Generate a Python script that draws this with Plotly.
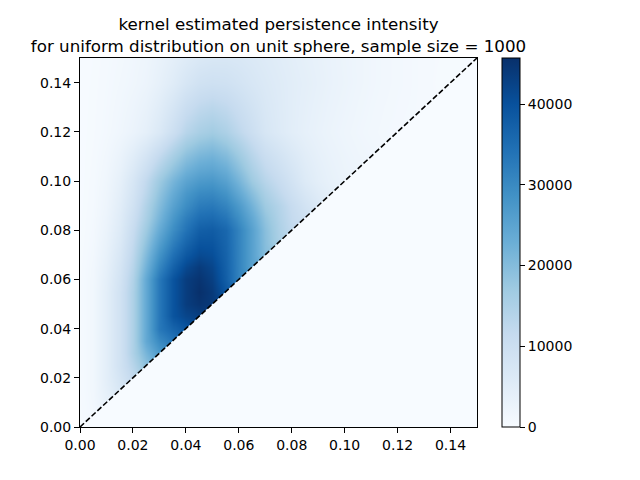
import plotly.graph_objects as go

# grid centres (birth on x, death on y)
x_centers = [round(i * 0.005, 3) for i in range(31)]
y_centers = [round(j * 0.005, 3) for j in range(31)]

# estimated intensity (thousands) for each row y, columns x = 0 .. y (upper triangle only)
rows_k = [
    [0.4],
    [0.45, 1.2],
    [0.5, 1.35, 3.6],
    [0.5, 1.5, 4.05, 7.2],
    [0.5, 1.5, 4.5, 8.1, 12],
    [0.5, 1.5, 4.5, 9, 13.5, 19],
    [0.5, 1.5, 4.5, 9, 15, 21.5, 27],
    [0.5, 1.5, 4.5, 9, 15, 24, 30, 33.5],
    [0.5, 1.5, 4.5, 9, 15, 24, 33, 36.5, 39],
    [0.5, 1.5, 4.5, 9, 15, 24, 33, 39.5, 42, 43],
    [0.5, 1.5, 4.5, 9, 15, 24, 33, 39.5, 43.5, 45, 44],
    [0.5, 1.5, 4.5, 9, 15, 24, 33, 39.5, 43.5, 45.7, 44, 39],
    [0.5, 1.5, 4.2, 8.5, 14.5, 24, 33, 39.5, 43.5, 45, 43, 37.5, 31],
    [0.45, 1.4, 3.85, 7.9, 13.6, 22.2, 30.6, 37, 41.5, 43.8, 42, 37.1, 31, 25.5],
    [0.4, 1.25, 3.5, 7.25, 12.75, 20.5, 28.25, 34.5, 38.75, 41.25, 40.5, 36.75, 31, 25.5, 20],
    [0.35, 1.1, 3.15, 6.6, 11.9, 18.75, 25.9, 32, 36.4, 39.4, 39.3, 36.4, 31, 25.5, 19.75, 15.5],
    [0.3, 1.0, 2.8, 6, 11, 17, 23.5, 29.5, 34, 37.5, 38, 36, 31, 25.5, 19.5, 15, 12],
    [0.3, 0.9, 2.5, 5.5, 10, 15.5, 21.5, 27.5, 32, 35, 35.5, 33.5, 29, 24, 18.5, 14.5, 11.5, 9.5],
    [0.25, 0.8, 2.2, 5, 9, 14.5, 20, 25.5, 29.5, 32.5, 33, 31, 27, 22, 17, 14, 11, 8.5, 6.5],
    [0.22, 0.75, 2.0, 4.5, 8.2, 13, 18.5, 23.5, 27.5, 29.8, 30.2, 28.2, 24, 19.5, 15.3, 12.3, 9.6, 7.2, 5.4, 4.0],
    [0.2, 0.7, 1.8, 4, 7.5, 12, 17, 21.5, 25, 27, 27.5, 25.5, 21.5, 17, 13.5, 11, 8.5, 6, 4.5, 3.5, 2.8],
    [0.2, 0.65, 1.6, 3.4, 6.3, 10, 14.4, 18.6, 22.1, 24.1, 24.7, 22.9, 19.2, 15.2, 12, 9.7, 7.6, 5.5, 4.2, 3.3, 2.6, 2.2],
    [0.2, 0.6, 1.4, 2.9, 5.15, 8.1, 11.75, 15.75, 19.25, 21.25, 22, 20.25, 17, 13.5, 10.5, 8.5, 6.65, 4.95, 3.85, 3.05, 2.45, 2.0, 1.7],
    [0.2, 0.55, 1.2, 2.35, 3.95, 6.15, 9.1, 12.9, 16.4, 18.4, 19.3, 17.6, 14.8, 11.8, 9, 7.25, 5.7, 4.4, 3.5, 2.8, 2.25, 1.85, 1.55, 1.25],
    [0.2, 0.5, 1.0, 1.8, 2.8, 4.2, 6.5, 10, 13.5, 15.5, 16.5, 15, 12.5, 10, 7.5, 6, 4.8, 3.9, 3.2, 2.6, 2.1, 1.7, 1.4, 1.1, 0.9],
    [0.2, 0.48, 0.95, 1.68, 2.55, 3.78, 5.83, 8.88, 12, 13.9, 14.75, 13.55, 11.45, 9.33, 7.23, 5.9, 4.83, 4.0, 3.33, 2.73, 2.23, 1.8, 1.48, 1.18, 0.95, 0.8],
    [0.2, 0.45, 0.9, 1.55, 2.3, 3.35, 5.15, 7.75, 10.5, 12.25, 13, 12.1, 10.4, 8.65, 6.95, 5.8, 4.85, 4.1, 3.45, 2.85, 2.35, 1.9, 1.55, 1.25, 1.0, 0.85, 0.7],
    [0.2, 0.43, 0.85, 1.43, 2.05, 2.93, 4.48, 6.63, 9, 10.6, 11.25, 10.65, 9.35, 7.98, 6.68, 5.7, 4.88, 4.2, 3.58, 2.98, 2.48, 2.0, 1.63, 1.33, 1.05, 0.88, 0.7, 0.55],
    [0.2, 0.4, 0.8, 1.3, 1.8, 2.5, 3.8, 5.5, 7.5, 9, 9.5, 9.2, 8.3, 7.3, 6.4, 5.6, 4.9, 4.3, 3.7, 3.1, 2.6, 2.1, 1.7, 1.4, 1.1, 0.9, 0.7, 0.5, 0.4],
    [0.2, 0.38, 0.75, 1.2, 1.7, 2.35, 3.5, 4.95, 6.55, 7.8, 8.3, 8.2, 7.6, 6.85, 6.1, 5.4, 4.75, 4.15, 3.6, 3.05, 2.55, 2.1, 1.7, 1.4, 1.1, 0.9, 0.7, 0.53, 0.43, 0.35],
    [0.2, 0.35, 0.7, 1.1, 1.6, 2.2, 3.2, 4.4, 5.6, 6.6, 7.1, 7.2, 6.9, 6.4, 5.8, 5.2, 4.6, 4.0, 3.5, 3.0, 2.5, 2.1, 1.7, 1.4, 1.1, 0.9, 0.7, 0.55, 0.45, 0.35, 0.3],
]

diag = [0.0, 0.15]
z_max = 45700
cbar_ticks = [0, 10000, 20000, 30000, 40000]
axis_ticks = [0.00, 0.02, 0.04, 0.06, 0.08, 0.10, 0.12, 0.14]

blues = [[0.0, "rgb(247,251,255)"], [0.125, "rgb(222,235,247)"], [0.25, "rgb(198,219,239)"],
         [0.375, "rgb(158,202,225)"], [0.5, "rgb(107,174,214)"], [0.625, "rgb(66,146,198)"],
         [0.75, "rgb(33,113,181)"], [0.875, "rgb(8,81,156)"], [1.0, "rgb(8,48,107)"]]

n = len(x_centers)
z = [[v * 1000 for v in row] + [None] * (n - len(row)) for row in rows_k]

FONT = "DejaVu Sans"
fig = go.Figure()
fig.add_trace(go.Heatmap(
    x=x_centers, y=y_centers, z=z, zmin=0, zmax=z_max, zsmooth="best",
    colorscale=blues, connectgaps=False, hoverinfo="skip",
    colorbar=dict(
        x=1.063, xanchor="left", y=0.5, yanchor="middle", len=1.0, lenmode="fraction",
        thickness=18, outlinewidth=1, outlinecolor="black", xpad=0, ypad=0,
        tickmode="array", tickvals=cbar_ticks, ticktext=[str(t) for t in cbar_ticks],
        ticks="outside", ticklen=5, tickwidth=1, tickcolor="black",
        tickfont=dict(family=FONT, size=14, color="black"),
    ),
))
# zero-intensity region below the diagonal
fig.add_trace(go.Scatter(
    x=[diag[0], diag[1], diag[1], diag[0]], y=[diag[0], diag[1], diag[0], diag[0]],
    fill="toself", fillcolor="rgb(247,251,255)", mode="none", hoverinfo="skip", showlegend=False,
))
fig.add_trace(go.Scatter(
    x=diag, y=diag, mode="lines", line=dict(color="black", width=1.6, dash="5.5px,2.4px"),
    hoverinfo="skip", showlegend=False,
))

axis_common = dict(
    range=[0, 0.15], tickmode="array", tickvals=axis_ticks,
    ticktext=[f"{t:.2f}" for t in axis_ticks], ticks="outside", ticklen=5, tickwidth=1,
    tickcolor="black", showline=True, linecolor="black", linewidth=1, mirror=True,
    showgrid=False, zeroline=False, automargin=False,
    tickfont=dict(family=FONT, size=14, color="black"),
)
# the page body adds an 8px offset, so margins are shifted to compensate
fig.update_layout(
    width=640, height=480,
    margin=dict(l=72, r=171, t=50, b=61, autoexpand=False),
    paper_bgcolor="white", plot_bgcolor="rgb(247,251,255)",
    xaxis=axis_common, yaxis=axis_common,
    title=dict(
        text="kernel estimated persistence intensity<br>for uniform distribution on unit sphere, sample size = 1000",
        x=0.5, xref="paper", xanchor="center", y=1 - 22 / 480, yref="container", yanchor="top",
        automargin=False, font=dict(family=FONT, size=16.7, color="black"),
    ),
    showlegend=False,
)
fig.write_html("out.html")
